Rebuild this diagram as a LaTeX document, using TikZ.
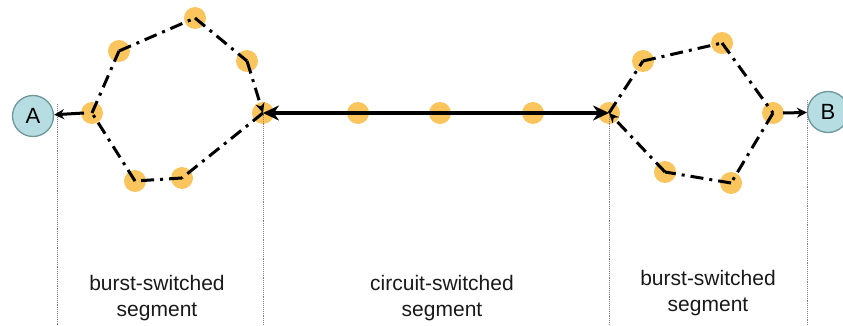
\documentclass[tikz,border=0pt]{standalone}
\usepackage{fontspec}
\setmainfont{Liberation Sans}
\usetikzlibrary{arrows.meta}
\definecolor{hopcol}{RGB}{249,197,92}
\definecolor{hostcol}{RGB}{182,222,226}
\definecolor{hostline}{RGB}{110,150,155}
\begin{document}
\begin{tikzpicture}[x=1pt,y=-1pt]
\tikzset{
	hop/.style={circle, fill=hopcol, minimum size=22pt, inner sep=0pt},
	host/.style={circle, draw=hostline, line width=1.3pt, fill=hostcol, minimum size=41pt, inner sep=0pt, font=\fontsize{22}{22}\selectfont},
	burst/.style={line width=3pt, dash pattern=on 13pt off 6pt on 3pt off 6pt},
	seg/.style={align=center, text=black!90, font=\fontsize{21}{26}\selectfont},
	guide/.style={gray, densely dotted, line width=0.9pt}
}
\useasboundingbox (0,0) rectangle (843,326);

% hosts
\node[host] (A) at (33,116) {A};
\node[host] (B) at (828,112) {B};

% left burst ring
\node[hop] (l_1) at (92,113) {};
\node[hop] (l_2) at (119,51) {};
\node[hop] (l_3) at (195,18) {};
\node[hop] (l_4) at (247,61) {};
\node[hop] (l_x) at (263,113) {};
\node[hop] (l_5) at (182,178) {};
\node[hop] (l_6) at (135,181) {};

% circuit part
\node[hop] (c_1) at (358,113) {};
\node[hop] (c_2) at (440,113) {};
\node[hop] (c_3) at (533,113) {};

% right burst ring
\node[hop] (r_x) at (609,113) {};
\node[hop] (r_1) at (643,61) {};
\node[hop] (r_2) at (722,43) {};
\node[hop] (r_3) at (773,113) {};
\node[hop] (r_4) at (731,183) {};
\node[hop] (r_5) at (665,172) {};

% segment borders
\draw[guide] (57,104) -- (57,326);
\draw[guide] (263,115) -- (263,326);
\draw[guide] (609,115) -- (609,326);
\draw[guide] (807,100) -- (807,326);

% left ring links
\draw[burst] (l_1.center) -- (l_2.center);
\draw[burst] (l_2.center) -- (l_3.center);
\draw[burst] (l_3.center) -- (l_4.center);
\draw[burst,-{Stealth[length=10pt,width=9pt]}] (l_4.center) -- (l_x.center);
\draw[burst] (l_x.center) -- (l_5.center);
\draw[burst] (l_5.center) -- (l_6.center);
\draw[burst] (l_6.center) -- (l_1.center);
\draw[line width=3pt,-{Stealth[length=10pt,width=10pt]}] ([xshift=-8pt]l_1.center) -- (A);

% right ring links
\draw[burst] (r_x.center) -- (r_1.center);
\draw[burst] (r_1.center) -- (r_2.center);
\draw[burst] (r_2.center) -- (r_3.center);
\draw[burst] (r_3.center) -- (r_4.center);
\draw[burst] (r_4.center) -- (r_5.center);
\draw[burst,-{Stealth[length=10pt,width=9pt]}] (r_5.center) -- (r_x.center);
\draw[line width=3pt,-{Stealth[length=10pt,width=10pt]}] ([xshift=10pt]r_3.center) -- (B);

% circuit link
\draw[line width=4.5pt,{Stealth[length=16pt,width=15pt]}-{Stealth[length=16pt,width=15pt]}] (l_x.center) -- (r_x.center);

% labels
\node[seg] (t_l) at (157,298) {burst-switched\\segment};
\node[seg] (t_c) at (442,298) {circuit-switched\\segment};
\node[seg] (t_r) at (708,293) {burst-switched\\segment};

\end{tikzpicture}
\end{document}
